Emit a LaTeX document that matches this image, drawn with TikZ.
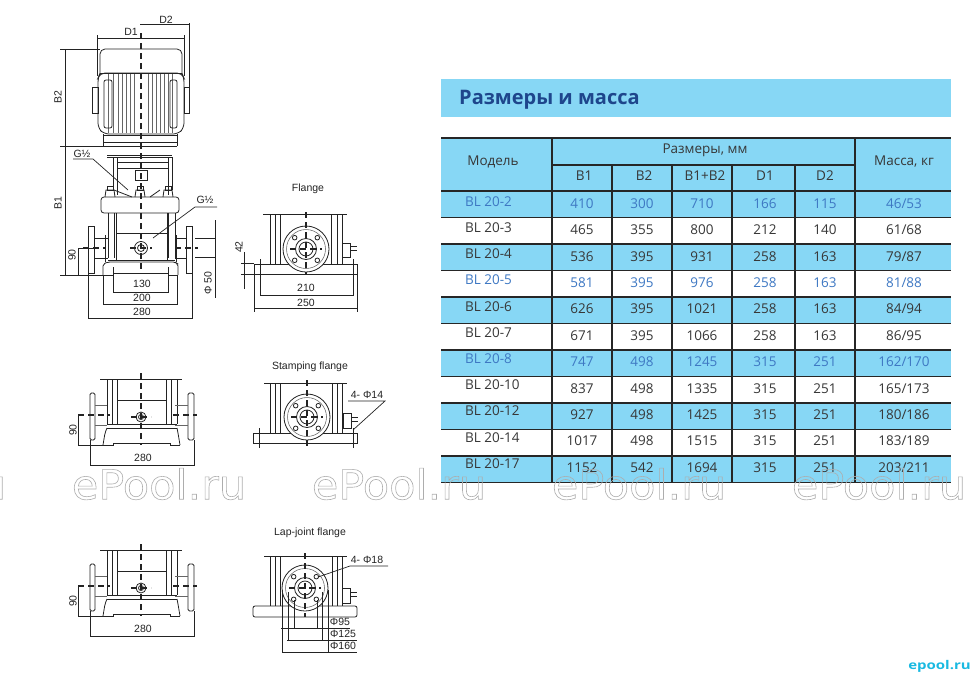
\documentclass[tikz,border=0pt]{standalone}
\usepackage{fontspec}
\setmainfont{Open Sans}
\newfontfamily\drawfont{Liberation Sans}
\newfontfamily\markfont{DejaVu Sans}
\definecolor{rowblue}{RGB}{135,215,245}
\definecolor{textblue}{RGB}{62,120,195}
\definecolor{titleblue}{RGB}{30,70,140}
\definecolor{textdark}{RGB}{55,55,55}
\definecolor{inkgray}{RGB}{35,35,35}
\definecolor{markgray}{RGB}{175,175,175}
\definecolor{logocyan}{RGB}{25,185,225}
\usetikzlibrary{positioning,calc}
\tikzset{
  partline/.style={draw=inkgray, line width=0.8pt},
  thinline/.style={draw=inkgray!70, line width=0.55pt},
  dimline/.style={draw=inkgray, line width=0.7pt},
  axisline/.style={draw=inkgray, line width=1.2pt, dash pattern=on 6pt off 4pt},
  dimtext/.style={font=\drawfont\fontsize{10.5}{11}\selectfont, text=inkgray, inner sep=0pt},
  titletext/.style={font=\drawfont\fontsize{10.5}{12}\selectfont, text=inkgray, inner sep=0pt},
  celltext/.style={font=\fontsize{13.5}{15}\selectfont, inner sep=0pt},
  headtext/.style={font=\fontsize{13.5}{15}\selectfont, text=textdark, inner sep=0pt},
  tableline/.style={draw=black!85, line width=1.1pt},
  wmark/.style={font=\markfont\fontsize{41}{44}\selectfont, inner sep=0pt, xscale=1.05, transform shape},
}
% pump foot seen from the side, used for the two lower views
\newcommand{\pumpfoot}[1]{
  \begin{scope}[yshift=-#1pt]
    \draw[axisline] (141,373) -- (141,445);
    \draw[partline] (100,379) -- (182,379);
    \foreach \x in {107,112,117,166,171,177} \draw[partline] (\x,379) -- (\x,424);
    \draw[partline] (117,400) -- (166,400);
    \draw[partline, rounded corners=1.5pt] (90,393) rectangle (95,440);
    \draw[partline, rounded corners=1.5pt] (188,393) rectangle (194,440);
    \draw[thinline] (95,405) -- (107,405) (95,425) -- (107,425) (175,405) -- (188,405) (175,425) -- (188,425);
    \draw[partline] (107,424) -- (177,424) (107,428) -- (177,428);
    \draw[partline, rounded corners=2pt] (103,445) -- (105,433) -- (107,428) (180,445) -- (178,433) -- (177,428);
    \draw[partline] (103,445) -- (113,445) -- (113,443) -- (170,443) -- (170,445) -- (180,445);
    \draw[partline] (141,417) circle (5) (141,417) circle (2.5);
    \draw[axisline] (78,415) -- (110,415) (173,415) -- (197,415) (131,417) -- (151,417);
    % dimensions
    \draw[dimline] (78,415) -- (78,445) (78,445) -- (103,445);
    \draw[dimline] (90,440) -- (90,465) -- (194,465) -- (194,440);
    \node[dimtext, rotate=90] at (73,430) {90};
    \node[dimtext] at (143,458) {280};
  \end{scope}
}
% flange circle seen from the front
\newcommand{\flangeface}[2]{
  \draw[partline, fill=white] (#1,#2) circle (23);
  \draw[thinline] (#1,#2) circle (19.5);
  \draw[partline] (#1,#2) circle (10.5) (#1,#2) circle (7);
  \foreach \a in {45,135,225,315} \draw[partline] ($(#1,#2)+(\a:16)$) circle (2.3);
}
\begin{document}
\begin{tikzpicture}[x=1pt, y=-1pt, every node/.style={font=\small}]
    \useasboundingbox (0,0) rectangle (975,678);

    % Motor
    \draw[partline, rounded corners=5pt] (100,73) -- (100,49) -- (182,49) -- (182,73);
    \draw[partline] (100,73) -- (182,73);
    \draw[partline, rounded corners=5pt] (98,78) -- (100,73) -- (182,73) -- (184,78) -- (184,128) -- (178,134) -- (104,134) -- (98,128) -- cycle;
    \foreach \x in {108,113,118,122,126,130,134,148,152,156,160,164,168,172} \draw[thinline] (\x,74) -- (\x,133);
    \draw[partline] (92,87) rectangle (98,113) (184,87) rectangle (189,113);
    \draw[partline, rounded corners=2pt] (104,80) rectangle (112,128) (170,80) rectangle (177,128);
    % Coupling and bracket
    \draw[partline] (103,135) -- (177,135) (103,142) -- (177,142) (103,146) -- (177,146);
    \draw[partline] (103,134) -- (103,146) (177,134) -- (177,146);
    \draw[partline] (107,155) -- (172,155) (107,157) -- (172,157);
    \draw[partline] (117,162) -- (168,162) (117,168) -- (168,168);
    \draw[partline] (117,157) -- (117,195) (168,157) -- (168,195) (113,157) -- (113,190) (172,157) -- (172,190);
    \draw[partline] (135,170) rectangle (147,180);
    % Pump head
    \draw[partline, rounded corners=3pt] (101,197) rectangle (179,213);
    \foreach \x in {110,140,168} {
      \draw[partline] (\x-5,197) -- (\x-4,190) -- (\x+4,190) -- (\x+5,197);
      \draw[partline] (\x-3,186) rectangle (\x+3,190);
    }
    \draw[partline] (114,190) -- (132,197) (150,197) -- (160,190);
    % Sleeve and tie rods
    \foreach \x in {108,114,168,175} \draw[partline] (\x,213) -- (\x,258);
    \foreach \x in {116,167} \draw[partline] (\x,213) -- (\x,260);
    \draw[partline] (116,233) -- (167,233) (108,260) -- (175,260);
    % Base
    \draw[partline, rounded corners=2pt] (103,275) -- (103,264) -- (108,262) -- (175,262) -- (178,264) -- (178,275);
    \draw[partline] (103,275) -- (113,275) -- (113,273) -- (168,273) -- (168,275) -- (178,275);
    % Side flanges
    \draw[partline] (88,226) rectangle (94,273) (186,226) rectangle (192,273);
    \draw[partline] (94,238) -- (108,238) (94,258) -- (108,258) (175,238) -- (186,238) (175,258) -- (186,258);
    \draw[partline] (105,235) -- (105,262) (176,235) -- (176,262);
    \draw[partline] (141,248) circle (6.5) (141,248) circle (3.5);
    \draw[axisline] (141,33) -- (141,272);
    \draw[axisline] (83,248) -- (105,248) (175,248) -- (198,248) (130,248) -- (152,248);

    % Dimensions of the main view
    \draw[dimline] (140,24) -- (189,24) (189,23) -- (189,87);
    \draw[dimline] (97,38) -- (184,38) (97,35) -- (97,76) (184,35) -- (184,76);
    \draw[dimline] (60,49) -- (100,49) (60,146) -- (103,146) (60,275) -- (103,275);
    \draw[dimline] (65,49) -- (65,275);
    \draw[dimline] (78,248) -- (94,248) (78,248) -- (78,275);
    \draw[dimline] (195,238) -- (215,238) (195,257) -- (215,257) (215,220) -- (215,298);
    \draw[dimline] (113,267) -- (113,292) -- (168,292) -- (168,267);
    \draw[dimline] (103,275) -- (103,304) -- (177,304) -- (177,275);
    \draw[dimline] (88,273) -- (88,318) -- (192,318) -- (192,273);
    \node[dimtext] (dtwo) at (166,20) {D2};
    \node[dimtext] (done) at (131,32) {D1};
    \node[dimtext, rotate=90] (btwo) at (58,97) {B2};
    \node[dimtext, rotate=90] (bone) at (58,203) {B1};
    \node[dimtext, rotate=90] at (72,255) {90};
    \node[dimtext, rotate=90] at (208,283) {Φ 50};
    \node[dimtext] at (142,284) {130};
    \node[dimtext] at (142,298) {200};
    \node[dimtext] at (142,312) {280};
    \node[dimtext] (gup) at (82,154) {G½};
    \node[dimtext] (gdown) at (205,200) {G½};
    \draw[dimline] (73,159) -- (93,159) -- (128,190);
    \draw[dimline] (217,207) -- (195,207) -- (153,238);

    % Flange view
    \node[titletext] (flange) at (308,189) {Flange};
    \draw[partline] (263,214) -- (347,214);
    \foreach \x in {270,275,280,331,337,342} \draw[partline] (\x,214) -- (\x,264);
    \draw[partline] (254,264) rectangle (357,274);
    \flangeface{306}{249}
    \draw[partline] (342,243) rectangle (350,257) (350,246) -- (357,246) (350,250) -- (357,250);
    \draw[axisline] (306,212) -- (306,275) (290,249) -- (322,249);
    \draw[dimline] (241,263) -- (254,263) (241,274) -- (254,274) (244,252) -- (244,289);
    \draw[dimline] (260,259) -- (260,295) -- (353,295) -- (353,259);
    \draw[dimline] (254,274) -- (254,312) (357,274) -- (357,312) (254,308) -- (357,308);
    \node[dimtext, rotate=90] at (239,247) {42};
    \node[dimtext] at (306,288) {210};
    \node[dimtext] at (306,303) {250};

    % Stamping flange and lap-joint views beside the pump feet
    \pumpfoot{0}
    \pumpfoot{171}

    \node[titletext] (stamp) at (310,367) {Stamping flange};
    \draw[partline] (264,383) -- (347,383);
    \foreach \x in {270,275,280,332,337,342} \draw[partline] (\x,383) -- (\x,433);
    \draw[partline] (253,433) rectangle (357,443);
    \flangeface{307}{417}
    \draw[partline] (343,413) rectangle (351,428) (351,417) -- (358,417) (351,421) -- (358,421);
    \draw[axisline] (307,380) -- (307,447) (291,417) -- (323,417);
    \draw[dimline] (259,428) -- (259,448) (353,428) -- (353,448);
    \node[dimtext] (holefour) at (367,395) {4- Φ14};
    \draw[dimline] (348,401) -- (385,401) -- (353,430);

    \node[titletext] (lap) at (310,533) {Lap-joint flange};
    \draw[partline] (264,556) -- (347,556);
    \foreach \x in {270,275,280,332,337,342} \draw[partline] (\x,556) -- (\x,606);
    \draw[partline, rounded corners=2pt] (253,617) -- (253,606) -- (357,606) -- (357,617) -- cycle;
    \flangeface{305}{588}
    \draw[partline] (342,588) rectangle (350,603) (350,592) -- (357,592) (350,596) -- (357,596);
    \draw[axisline] (305,553) -- (305,617) (289,588) -- (321,588);
    \node[dimtext] (holeeight) at (367,560) {4- Φ18};
    \draw[dimline] (388,566) -- (350,566) -- (318,577);
    \draw[dimline] (294,600) -- (294,628) (317,600) -- (317,628) (281,628) -- (350,628);
    \draw[dimline] (288,592) -- (288,640) (322,592) -- (322,640) (287,640) -- (357,640);
    \draw[dimline] (282,590) -- (282,652) (328,590) -- (328,652) (282,652) -- (357,652);
    \node[dimtext] at (340,622) {Φ95};
    \node[dimtext] at (343,634) {Φ125};
    \node[dimtext] at (343,646) {Φ160};

    % Heading band
    \fill[rowblue] (441,79) rectangle (951,117);
    \node[font=\bfseries\fontsize{20}{22}\selectfont, text=titleblue, inner sep=0pt, anchor=west] (heading) at (459,99.5) {Размеры и масса};

    % Table head
    \fill[rowblue] (441,138) rectangle (951,191);
    \node[headtext] (model) at (493,162) {Модель};
    \node[headtext] (sizes) at (705,150.5) {Размеры, мм};
    \node[headtext] (mass) at (904,162) {Масса, кг};
    \foreach \n/\x/\t in {bo/584/B1,bt/644/B2,bs/705/B1+B2,da/765/D1,db/825/D2}
        \node[headtext] (h\n) at (\x,176) {\t};

    % Table rows
    \foreach \m/\a/\b/\s/\c/\d/\k/\l/\rowfill/\rowtext [count=\r from 0] in {
        BL 20-2/410/300/710/166/115/46/53/rowblue/textblue,
        BL 20-3/465/355/800/212/140/61/68/white/textdark,
        BL 20-4/536/395/931/258/163/79/87/rowblue/textdark,
        BL 20-5/581/395/976/258/163/81/88/white/textblue,
        BL 20-6/626/395/1021/258/163/84/94/rowblue/textdark,
        BL 20-7/671/395/1066/258/163/86/95/white/textdark,
        BL 20-8/747/498/1245/315/251/162/170/rowblue/textblue,
        BL 20-10/837/498/1335/315/251/165/173/white/textdark,
        BL 20-12/927/498/1425/315/251/180/186/rowblue/textdark,
        BL 20-14/1017/498/1515/315/251/183/189/white/textdark,
        BL 20-17/1152/542/1694/315/251/203/211/rowblue/textdark} {
      \pgfmathsetmacro{\rowtop}{191+26.5*\r}
      \pgfmathsetmacro{\namey}{201.5+26.2*\r}
      \pgfmathsetmacro{\celly}{203.5+26.4*\r}
      \fill[\rowfill] (441,\rowtop) rectangle (951,\rowtop+26.5);
      \node[celltext, text=\rowtext, anchor=west] (m\r) at (465,\namey) {\m};
      \node[celltext, text=\rowtext] (a\r) at (582,\celly) {\a};
      \node[celltext, text=\rowtext] (b\r) at (642,\celly) {\b};
      \node[celltext, text=\rowtext] (s\r) at (702,\celly) {\s};
      \node[celltext, text=\rowtext] (c\r) at (765,\celly) {\c};
      \node[celltext, text=\rowtext] (d\r) at (825,\celly) {\d};
      \node[celltext, text=\rowtext] (k\r) at (904,\celly) {\k/\l};
    }

    % Rules
    \foreach \r in {0,...,11} \draw[tableline] (441,191+26.5*\r) -- (951,191+26.5*\r);
    \draw[tableline] (441,138) -- (951,138) (552,165) -- (855,165);
    \foreach \x in {552,855} \draw[tableline] (\x,138) -- (\x,483);
    \foreach \x in {612,672,732,795} \draw[tableline] (\x,165) -- (\x,483);

    % Watermark
    \begin{scope}
      \clip (0,0) rectangle (975,678);
      \foreach \x [count=\w] in {-81,159,399,639,879}
        \node[wmark, text=markgray] (wm\w) at (\x,484) {\special{pdf:code q 1 Tr 0.6 w 0.68 G}ePool.ru\special{pdf:code Q}};
    \end{scope}
    \node[font=\bfseries\fontsize{12}{13}\selectfont, text=logocyan, inner sep=0pt, anchor=east, xscale=1.25, transform shape] (logo) at (971,666) {epool.ru};
\end{tikzpicture}
\end{document}
